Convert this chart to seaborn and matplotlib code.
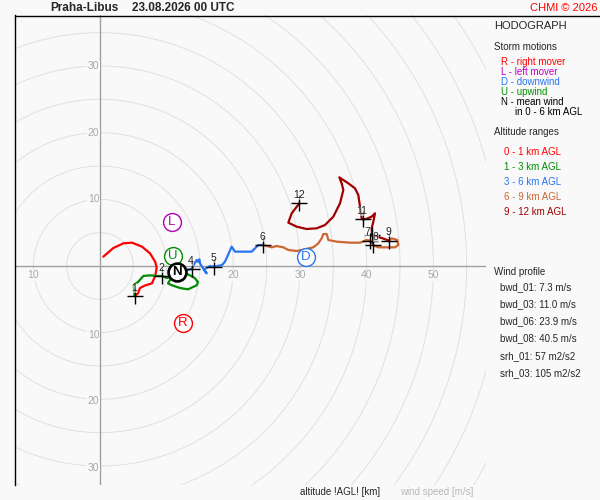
import numpy as np
import pandas as pd
import matplotlib
matplotlib.use("Agg")
import matplotlib.pyplot as plt
from matplotlib.lines import Line2D
import seaborn as sns

# hodograph traces (u, v in m/s)
u_0_1 = [0.5, 2.0, 3.5, 4.8, 6.3, 7.5, 8.3, 8.5, 8.3, 7.8, 6.8, 6.0, 5.7, 5.2]
v_0_1 = [1.4, 2.7, 3.4, 3.5, 2.9, 1.9, 0.6, -0.3, -1.4, -2.6, -2.9, -3.3, -4.1, -4.5]

u_1_3 = [5.2, 5.0, 5.7, 6.5, 7.5, 8.7, 9.3, 10.0, 10.8, 10.2, 10.8, 12.0, 13.2, 14.5, 14.7,
         14.2, 13.5, 12.8, 12.0, 11.4]
v_1_3 = [-4.5, -2.9, -2.4, -1.5, -1.4, -1.5, -1.5, -1.8, -1.6, -2.6, -2.9, -3.3, -3.5, -2.9, -2.4,
         -1.8, -1.4, -1.1, -1.2, -0.9]

u_3_6 = [11.4, 13.0, 13.75, 14.2, 14.5, 14.75, 14.9, 15.0, 15.3, 15.6, 16.0, 15.6, 16.5, 17.15,
         18.3, 18.75, 19.2, 19.75, 20.25, 21.25, 22.75, 23.25, 23.75, 24.45]
v_3_6 = [-0.9, -0.6, -0.45, 0.4, 0.9, 0.6, 1.0, 0.4, -0.1, -0.6, -1.1, -0.5, 0.0, -0.1,
         0.15, 0.65, 1.65, 2.9, 2.15, 2.15, 2.15, 2.65, 3.15, 3.15]

u_6_9 = [24.45, 25.75, 26.5, 27.5, 28.25, 29.5, 30.25, 32.0, 32.75, 33.25, 33.5, 34.0, 34.25,
         35.5, 37.5, 39.0, 40.0, 40.5, 41.0, 41.25, 41.75, 43.0, 44.25, 44.75, 44.6, 43.75, 43.35]
v_6_9 = [3.15, 2.8, 3.0, 2.8, 2.4, 2.25, 2.4, 2.8, 3.4, 4.15, 4.8, 4.8, 3.9,
         3.65, 3.5, 3.5, 3.9, 3.8, 3.15, 3.0, 2.8, 2.8, 2.8, 3.15, 3.9, 4.15, 3.8]

u_9_12 = [43.35, 42.25, 40.8, 40.75, 41.0, 41.25, 40.75, 39.9, 39.4, 39.25, 39.0, 38.75, 38.25,
          37.25, 36.5, 35.9, 36.25, 36.5, 36.0, 35.0, 33.75, 32.5, 31.0, 29.5, 28.25, 28.75, 29.9]
v_9_12 = [3.8, 4.2, 4.6, 5.65, 6.65, 7.9, 7.4, 7.05, 7.0, 7.15, 8.9, 10.65, 11.65,
          12.4, 12.9, 13.3, 12.4, 11.4, 9.4, 7.4, 6.15, 5.65, 5.55, 5.9, 6.5, 7.9, 9.4]

layer_names = ["0 - 1 km AGL", "1 - 3 km AGL", "3 - 6 km AGL", "6 - 9 km AGL", "9 - 12 km AGL"]
layer_colors = ["#ff0000", "#008c00", "#2a74f0", "#cc6633", "#a00000"]

# km markers
km_labels = ["1", "2", "", "4", "5", "6", "7", "8", "9", "", "11", "12"]
km_u = [5.2, 9.3, 11.4, 13.75, 17.15, 24.45, 40.5, 41.0, 43.35, 40.8, 39.4, 29.9]
km_v = [-4.5, -1.5, -0.9, -0.45, -0.1, 3.15, 3.8, 3.15, 3.8, 4.6, 7.0, 9.4]

# storm motions
storm_letters = ["L", "U", "N", "D", "R"]
storm_u = [10.8, 10.95, 11.55, 30.9, 12.45]
storm_v = [6.6, 1.5, -0.9, 1.35, -8.55]
storm_colors = ["#b000b0", "#008c00", "#000000", "#2a74f0", "#ff0000"]

wind_profile = ["bwd_01: 7.3 m/s", "bwd_03: 11.0 m/s", "bwd_06: 23.9 m/s", "bwd_08: 40.5 m/s",
                "srh_01: 57 m2/s2", "srh_03: 105 m2/s2"]

frames = []
for name, uu, vv in zip(layer_names, [u_0_1, u_1_3, u_3_6, u_6_9, u_9_12],
                        [v_0_1, v_1_3, v_3_6, v_6_9, v_9_12]):
    frames.append(pd.DataFrame({"u": uu, "v": vv, "layer": name, "order": range(len(uu))}))
df = pd.concat(frames, ignore_index=True)

bg = "#f9f9f9"
sns.set_style("white")
plt.rcParams["font.family"] = ["Liberation Sans", "DejaVu Sans"]

fig = plt.figure(figsize=(6, 5), dpi=100, facecolor=bg)
ax = fig.add_axes([15 / 600, 15 / 500, 471 / 600, 470 / 500])
ax.set_facecolor(bg)
ax.set_xlim(-12.75, 57.9)
ax.set_ylim(-32.85, 37.65)

# range rings
t = np.linspace(0, 2 * np.pi, 400)
for r in range(5, 75, 5):
    ax.plot(r * np.cos(t), r * np.sin(t), color="#e0e0e0", lw=0.7, zorder=1)
ax.axhline(0, color="#a0a0a0", lw=1, zorder=2)
ax.axvline(0, color="#a0a0a0", lw=1, zorder=2)

tick_kw = dict(color="#a8a8a8", fontsize=7.5, zorder=3,
               bbox=dict(facecolor=bg, edgecolor="none", pad=0.3))
for r in [10, 20, 30]:
    ax.text(-0.1, r, str(r), ha="right", va="center", **tick_kw)
    ax.text(-0.1, -r - 0.3, str(r), ha="right", va="center", **tick_kw)
for r in [20, 30, 40, 50]:
    ax.text(r, -1.4, str(r), ha="center", va="center", **tick_kw)
ax.text(-10, -1.4, "10", ha="center", va="center", **tick_kw)

sns.lineplot(data=df, x="u", y="v", hue="layer", units="layer", sort=False, estimator=None,
             palette=dict(zip(layer_names, layer_colors)), lw=1.6, legend=False, ax=ax, zorder=4)

ax.plot(km_u, km_v, "+", color="black", ms=11, mew=1.0, zorder=5)
for lab, x, y in zip(km_labels, km_u, km_v):
    if lab:
        dx = -0.45 if lab == "7" else (0.35 if lab == "8" else -0.1)
        ax.text(x + dx, y + 1.25, lab, ha="center", va="center", fontsize=7.5, color="#222222",
                zorder=6, bbox=dict(facecolor="white", alpha=0.55, edgecolor="none", pad=0.1))

for lt, x, y, c in zip(storm_letters, storm_u, storm_v, storm_colors):
    ax.scatter([x], [y], s=165, facecolor="white", edgecolor=c,
               linewidth=1.9 if lt == "N" else 1.0, zorder=7)
    ax.text(x, y - 0.05, lt, ha="center", va="center", fontsize=9.5, color=c,
            fontweight="bold" if lt == "N" else "normal", zorder=8)

ax.set_xlabel("")
ax.set_ylabel("")
ax.set_xticks([])
ax.set_yticks([])
for s in ["top", "right", "bottom"]:
    ax.spines[s].set_visible(False)
ax.spines["left"].set_color("black")
ax.spines["left"].set_linewidth(1)

fig.add_artist(Line2D([15 / 600, 1.0], [1 - 16 / 500, 1 - 16 / 500], color="black", lw=1))


def ftext(x, y, s, **kw):
    fig.text(x / 600, 1 - y / 500, s, va="center", **kw)


ftext(50, 8, "Praha-Libus", fontsize=8.5, fontweight="bold")
ftext(132, 8, "23.08.2026 00 UTC", fontsize=8.5, fontweight="bold")
ftext(598, 8, "CHMI © 2026", fontsize=8, color="#ff0000", ha="right")

ftext(494, 26, "HODOGRAPH", fontsize=8)
ftext(494, 47, "Storm motions", fontsize=7)
side = [("R - right mover", "#ff0000", 501, 62), ("L - left mover", "#c000c0", 501, 72),
        ("D - downwind", "#2a74f0", 501, 82), ("U - upwind", "#009000", 501, 92),
        ("N - mean wind", "black", 501, 102), ("in 0 - 6 km AGL", "black", 515, 112)]
for s, c, x, y in side:
    ftext(x, y, s, fontsize=7, color=c)
ftext(494, 132, "Altitude ranges", fontsize=7)
for i, (name, c) in enumerate(zip(layer_names, layer_colors)):
    ftext(504, 152 + i * 15, name, fontsize=7, color=c)
ftext(494, 272, "Wind profile", fontsize=7)
for i, s in enumerate(wind_profile):
    y = 287 + i * 17 + (1 if i >= 4 else 0)
    ftext(500, y, s, fontsize=7)

ftext(300, 492, "altitude !AGL! [km]", fontsize=7)
ftext(400, 492, "wind speed [m/s]", fontsize=7, color="#b8b8b8")

fig.savefig("out.png", dpi=100, facecolor=bg)
